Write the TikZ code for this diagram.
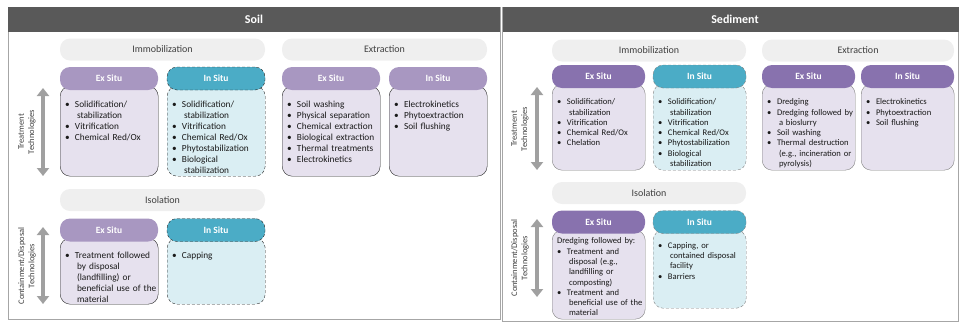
\documentclass[tikz,border=0pt]{standalone}
\usepackage{fontspec}
\setmainfont{Carlito}
\usetikzlibrary{arrows.meta}

\definecolor{bandgray}{HTML}{595959}
\definecolor{framegray}{HTML}{A6A6A6}
\definecolor{pillgray}{HTML}{EFEFEF}
\definecolor{arrowgray}{HTML}{A0A0A0}
\definecolor{lilac}{HTML}{A897C1}
\definecolor{plum}{HTML}{8872AE}
\definecolor{teal}{HTML}{4BACC6}
\definecolor{lilacbody}{HTML}{E6E1EE}
\definecolor{tealbody}{HTML}{DAEEF3}
\definecolor{soilline}{HTML}{262626}
\definecolor{sedline}{HTML}{808080}
\definecolor{labeltext}{HTML}{404040}

\newcommand{\soilfont}{\fontsize{9.3}{11}\selectfont}
\newcommand{\sedfont}{\fontsize{8.6}{10.3}\selectfont}
\newcommand{\bul}{\par\noindent\hangindent=12pt\hangafter=1\makebox[10pt][l]{\textbullet}}

\tikzset{
  panel/.style={draw=framegray, line width=0.8pt},
  bandtext/.style={text=white, font=\bfseries\fontsize{12}{14}\selectfont},
  pill/.style={fill=pillgray, rounded corners=10pt, minimum height=22pt, inner sep=0pt,
    text=labeltext, font=\fontsize{10}{12}\selectfont},
  exhead/.style={fill=#1, rounded corners=10pt, minimum height=23pt, inner sep=0pt,
    text=white, font=\bfseries\fontsize{9.5}{11}\selectfont},
  inhead/.style={exhead=teal, draw=#1, dash pattern=on 3pt off 2pt},
  exbody/.style={fill=lilacbody, draw=#1, rounded corners=10pt, inner sep=0pt, anchor=north west},
  inbody/.style={fill=tealbody, draw=#1, dash pattern=on 3pt off 2pt, rounded corners=10pt,
    inner sep=0pt, anchor=north west},
  items/.style={anchor=north west, inner sep=0pt, text width=#1, align=left, text=black!90},
  sidelabel/.style={rotate=90, align=center, text=labeltext, font=\fontsize{8.5}{10.2}\selectfont},
  bigarrow/.style={draw=arrowgray, line width=4pt,
    {Triangle[width=12pt,length=8pt]}-{Triangle[width=12pt,length=8pt]}}
}

\begin{document}
\begin{tikzpicture}[x=1pt,y=-1pt]
  \def\sw{98}
  \def\dw{93}
  \useasboundingbox (0,0) rectangle (959,322);

  % Soil panel
  \draw[panel] (8,7) rectangle (500,319);
  \fill[bandgray] (8,7) rectangle (500,32);
  \node[bandtext] (soil) at (254,19.5) {Soil};

  \node[pill, minimum width=205pt] (sIm) at (162.5,49.5) {Immobilization};
  \node[pill, minimum width=205pt] (sExt) at (384.5,49.5) {Extraction};
  \node[pill, minimum width=205pt] (sIso) at (162.5,200) {Isolation};

  \node[exbody=soilline, minimum width=\sw pt, minimum height=90pt] (sImExB) at (60,86) {};
  \node[inbody=soilline, minimum width=\sw pt, minimum height=90pt] (sImInB) at (167,86) {};
  \node[exbody=soilline, minimum width=\sw pt, minimum height=90pt] (sExtExB) at (282,86) {};
  \node[exbody=soilline, minimum width=\sw pt, minimum height=90pt] (sExtInB) at (389,86) {};
  \node[exbody=soilline, minimum width=\sw pt, minimum height=66pt] (sIsoExB) at (60,238) {};
  \node[inbody=soilline, minimum width=\sw pt, minimum height=66pt] (sIsoInB) at (167,238) {};

  \node[exhead=lilac, minimum width=\sw pt] (sImEx) at (109,78.5) {Ex Situ};
  \node[inhead=soilline, minimum width=\sw pt] (sImIn) at (216,78.5) {In Situ};
  \node[exhead=lilac, minimum width=\sw pt] (sExtEx) at (331,78.5) {Ex Situ};
  \node[exhead=lilac, minimum width=\sw pt] (sExtIn) at (438,78.5) {In Situ};
  \node[exhead=lilac, minimum width=\sw pt] (sIsoEx) at (109,230) {Ex Situ};
  \node[inhead=soilline, minimum width=\sw pt] (sIsoIn) at (216,230) {In Situ};

  \node[items=96pt, font=\soilfont] (sImExL) at ([shift={(5,6)}]sImEx.south west)
    {\bul Solidification/\newline stabilization \bul Vitrification \bul Chemical Red/Ox\par};
  \node[items=96pt, font=\soilfont] (sImInL) at ([shift={(5,6)}]sImIn.south west)
    {\bul Solidification/\newline stabilization \bul Vitrification \bul Chemical Red/Ox
     \bul Phytostabilization \bul Biological\newline stabilization\par};
  \node[items=96pt, font=\soilfont] (sExtExL) at ([shift={(5,6)}]sExtEx.south west)
    {\bul Soil washing \bul Physical separation \bul Chemical extraction
     \bul Biological extraction \bul Thermal treatments \bul Electrokinetics\par};
  \node[items=96pt, font=\soilfont] (sExtInL) at ([shift={(5,6)}]sExtIn.south west)
    {\bul Electrokinetics \bul Phytoextraction \bul Soil flushing\par};
  \node[items=96pt, font=\soilfont] (sIsoExL) at ([shift={(5,6)}]sIsoEx.south west)
    {\bul Treatment followed\newline by disposal\newline (landfilling) or\newline
     beneficial use of the\newline material\par};
  \node[items=96pt, font=\soilfont] (sIsoInL) at ([shift={(5,6)}]sIsoIn.south west)
    {\bul Capping\par};

  % Soil side arrows
  \coordinate (sTa) at (43,88);
  \coordinate (sTb) at (43,176);
  \coordinate (sCa) at (43,227);
  \coordinate (sCb) at (43,304);
  \draw[bigarrow] (sTa) -- (sTb);
  \draw[bigarrow] (sCa) -- (sCb);
  \node[sidelabel] (sTl) at (27,132) {Treatment\\Technologies};
  \node[sidelabel] (sCl) at (27,266) {Containment/Disposal\\Technologies};

  % Sediment panel
  \draw[panel] (502.5,7) rectangle (958.6,321);
  \fill[bandgray] (502.5,7) rectangle (959,32);
  \node[bandtext] (sediment) at (735,19.5) {Sediment};

  \node[pill, minimum width=194pt] (dIm) at (649,50.5) {Immobilization};
  \node[pill, minimum width=192pt] (dExt) at (858,50.5) {Extraction};
  \node[pill, minimum width=194pt] (dIso) at (649,193) {Isolation};

  \node[exbody=sedline, minimum width=\dw pt, minimum height=86pt] (dImExB) at (552,84) {};
  \node[inbody=sedline, minimum width=\dw pt, minimum height=86pt] (dImInB) at (653,84) {};
  \node[exbody=sedline, minimum width=\dw pt, minimum height=86pt] (dExtExB) at (762,84) {};
  \node[exbody=sedline, minimum width=\dw pt, minimum height=86pt] (dExtInB) at (861,84) {};
  \node[exbody=sedline, minimum width=\dw pt, minimum height=89pt] (dIsoExB) at (552,230) {};
  \node[inbody=sedline, minimum width=\dw pt, minimum height=78pt] (dIsoInB) at (653,230) {};

  \node[exhead=plum, minimum width=\dw pt] (dImEx) at (598.5,76.5) {Ex Situ};
  \node[inhead=sedline, minimum width=\dw pt] (dImIn) at (699.5,76.5) {In Situ};
  \node[exhead=plum, minimum width=\dw pt] (dExtEx) at (808.5,76.5) {Ex Situ};
  \node[exhead=plum, minimum width=\dw pt] (dExtIn) at (907.5,76.5) {In Situ};
  \node[exhead=plum, minimum width=\dw pt] (dIsoEx) at (598.5,222) {Ex Situ};
  \node[inhead=sedline, minimum width=\dw pt] (dIsoIn) at (699.5,222) {In Situ};

  \node[items=92pt, font=\sedfont] (dImExL) at ([shift={(5,6)}]dImEx.south west)
    {\bul Solidification/\newline stabilization \bul Vitrification \bul Chemical Red/Ox
     \bul Chelation\par};
  \node[items=92pt, font=\sedfont] (dImInL) at ([shift={(5,6)}]dImIn.south west)
    {\bul Solidification/\newline stabilization \bul Vitrification \bul Chemical Red/Ox
     \bul Phytostabilization \bul Biological\newline stabilization\par};
  \node[items=92pt, font=\sedfont] (dExtExL) at ([shift={(5,6)}]dExtEx.south west)
    {\bul Dredging \bul Dredging followed by\newline a bioslurry \bul Soil washing
     \bul Thermal destruction\newline (e.g., incineration or\newline pyrolysis)\par};
  \node[items=92pt, font=\sedfont] (dExtInL) at ([shift={(5,6)}]dExtIn.south west)
    {\bul Electrokinetics \bul Phytoextraction \bul Soil flushing\par};
  \node[items=92pt, font=\sedfont] (dIsoExL) at ([shift={(5,4)}]dIsoEx.south west)
    {\noindent Dredging followed by: \bul Treatment and\newline disposal (e.g.,\newline
     landfilling or\newline composting) \bul Treatment and\newline beneficial use of the\newline
     material\par};
  \node[items=92pt, font=\sedfont] (dIsoInL) at ([shift={(5,4)}]dIsoIn.south west)
    {\bul Capping, or\newline contained disposal\newline facility \bul Barriers\par};

  % Sediment side arrows
  \coordinate (dTa) at (537,87);
  \coordinate (dTb) at (537,170);
  \coordinate (dCa) at (537,219);
  \coordinate (dCb) at (537,297);
  \draw[bigarrow] (dTa) -- (dTb);
  \draw[bigarrow] (dCa) -- (dCb);
  \node[sidelabel] (dTl) at (520,129) {Treatment\\Technologies};
  \node[sidelabel] (dCl) at (520,258) {Containment/Disposal\\Technologies};
\end{tikzpicture}
\end{document}
